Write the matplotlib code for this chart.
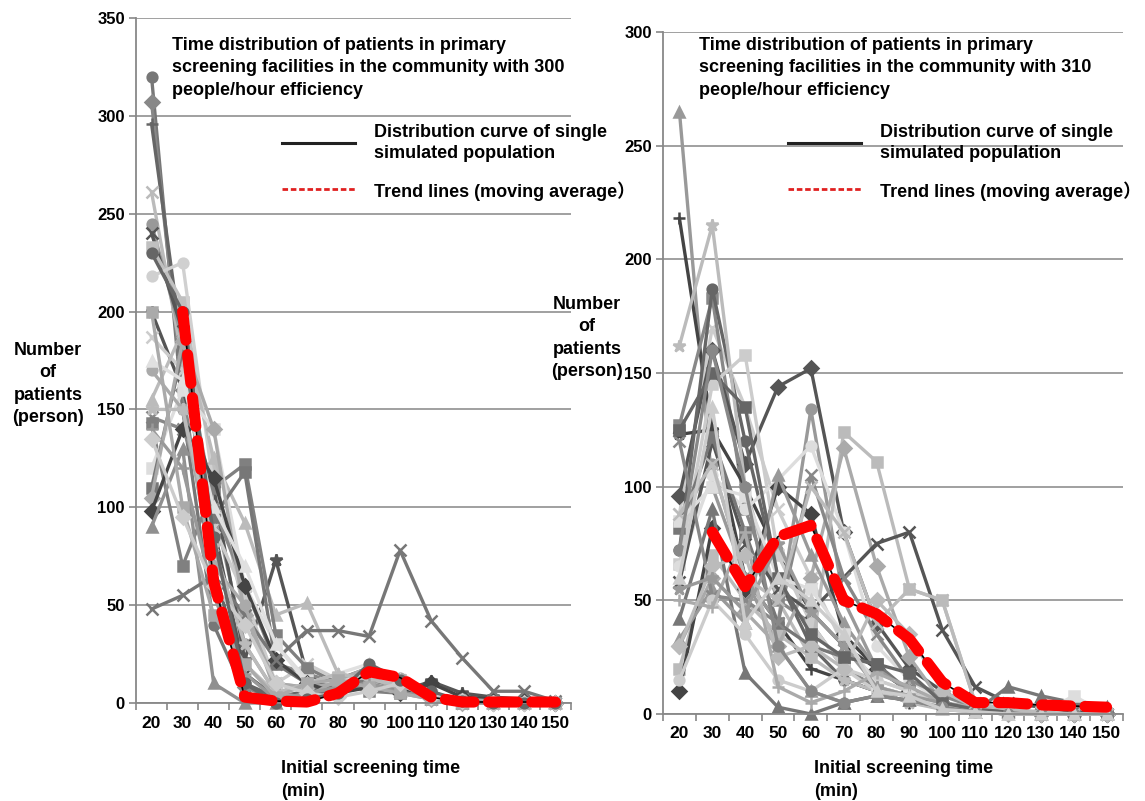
import matplotlib.pyplot as plt
from matplotlib.lines import Line2D
import numpy as np

plt.rcParams['font.family'] = ['Liberation Sans', 'Noto Sans CJK SC', 'DejaVu Sans']
plt.rcParams['font.weight'] = 'bold'

# categories (minutes)
times = ['20', '30', '40', '50', '60', '70', '80', '90', '100', '110', '120', '130', '140', '150']

# left panel: 300 people/hour, one row per simulated population
left_runs = [
    [320, 150, 40, 5, 1, 3, 8, 12, 10, 2, 0, 0, 0, 0],
    [307, 160, 60, 8, 2, 5, 10, 15, 8, 3, 1, 0, 0, 0],
    [296, 180, 70, 10, 3, 6, 12, 18, 10, 4, 1, 0, 0, 0],
    [261, 175, 80, 20, 5, 8, 10, 14, 12, 3, 1, 0, 0, 0],
    [245, 185, 100, 30, 5, 10, 12, 16, 10, 5, 2, 1, 0, 0],
    [240, 190, 90, 15, 3, 5, 8, 12, 8, 2, 0, 0, 0, 0],
    [233, 205, 120, 45, 10, 8, 10, 15, 12, 4, 2, 1, 0, 0],
    [218, 225, 110, 60, 20, 10, 12, 14, 8, 3, 1, 0, 0, 0],
    [200, 160, 110, 22, 73, 15, 5, 10, 6, 11, 5, 3, 2, 0],
    [187, 170, 90, 55, 10, 20, 12, 10, 8, 2, 0, 0, 0, 0],
    [155, 190, 125, 92, 45, 51, 15, 12, 8, 3, 1, 0, 0, 0],
    [146, 140, 100, 60, 20, 15, 10, 8, 6, 4, 1, 0, 0, 0],
    [143, 70, 110, 122, 35, 18, 10, 6, 5, 3, 2, 1, 0, 0],
    [120, 160, 140, 60, 30, 12, 10, 15, 10, 4, 1, 0, 0, 0],
    [110, 180, 95, 118, 20, 10, 8, 12, 8, 3, 1, 0, 0, 0],
    [105, 185, 140, 45, 10, 8, 10, 14, 6, 2, 0, 0, 0, 0],
    [98, 140, 115, 60, 22, 10, 5, 8, 5, 10, 3, 2, 1, 0],
    [90, 130, 10, 0, 0, 5, 8, 10, 6, 2, 0, 0, 0, 0],
    [48, 55, 65, 45, 22, 37, 37, 34, 78, 42, 23, 6, 6, 1],
    [170, 150, 70, 50, 5, 3, 12, 18, 13, 5, 2, 1, 0, 0],
    [175, 165, 100, 70, 30, 10, 15, 20, 12, 4, 1, 0, 0, 0],
    [150, 150, 80, 30, 5, 10, 15, 12, 9, 3, 1, 0, 0, 0],
    [140, 120, 55, 15, 2, 5, 8, 10, 5, 2, 0, 0, 0, 0],
    [200, 100, 45, 20, 3, 10, 12, 8, 5, 2, 0, 0, 0, 0],
    [135, 95, 60, 40, 10, 5, 3, 6, 10, 3, 1, 0, 0, 0],
    [230, 200, 85, 10, 0, 2, 5, 20, 12, 6, 1, 0, 0, 0],
]
# moving average, 30..150
left_trend = [200, 62, 3, 1, 0.5, 5, 16, 13, 3, 0.5, 0.5, 0.5, 0.5]

# right panel: 310 people/hour
right_runs = [
    [265, 100, 60, 30, 10, 5, 8, 6, 2, 1, 1, 0, 0, 0],
    [218, 125, 60, 40, 20, 15, 10, 5, 3, 1, 0, 0, 0, 0],
    [88, 170, 135, 90, 60, 30, 15, 10, 5, 2, 1, 0, 0, 0],
    [127, 183, 90, 50, 40, 20, 12, 8, 3, 1, 1, 0, 0, 0],
    [123, 125, 100, 70, 45, 30, 20, 10, 5, 2, 1, 0, 0, 0],
    [96, 160, 110, 144, 152, 80, 40, 20, 10, 3, 1, 0, 0, 0],
    [72, 187, 120, 60, 30, 15, 10, 8, 3, 1, 0, 0, 0, 0],
    [162, 215, 100, 50, 25, 15, 10, 5, 2, 1, 0, 0, 0, 0],
    [66, 145, 158, 70, 40, 20, 10, 8, 3, 1, 0, 0, 0, 0],
    [85, 110, 60, 40, 134, 50, 20, 10, 5, 2, 1, 0, 0, 0],
    [65, 105, 90, 103, 118, 80, 30, 15, 5, 2, 1, 0, 0, 0],
    [20, 70, 50, 35, 25, 124, 111, 55, 50, 5, 1, 0, 0, 0],
    [30, 60, 45, 30, 60, 117, 65, 25, 5, 2, 0, 0, 0, 0],
    [58, 120, 75, 55, 45, 60, 75, 80, 37, 12, 5, 3, 1, 0],
    [10, 82, 55, 100, 88, 35, 20, 10, 5, 2, 1, 0, 0, 0],
    [42, 90, 18, 3, 0, 5, 8, 6, 3, 1, 12, 8, 5, 3],
    [82, 122, 80, 40, 30, 25, 22, 10, 3, 1, 0, 0, 0, 0],
    [33, 55, 40, 105, 70, 40, 20, 10, 3, 1, 0, 0, 0, 0],
    [120, 52, 50, 40, 105, 60, 35, 15, 8, 3, 1, 0, 0, 0],
    [15, 50, 35, 15, 10, 20, 15, 10, 5, 2, 1, 0, 0, 0],
    [85, 100, 96, 60, 55, 35, 12, 8, 3, 1, 0, 0, 8, 0],
    [50, 47, 80, 12, 5, 10, 18, 12, 5, 3, 1, 0, 0, 0],
    [30, 65, 70, 25, 30, 20, 50, 35, 10, 3, 1, 0, 0, 0],
    [55, 60, 45, 75, 45, 30, 12, 8, 5, 2, 0, 0, 0, 0],
    [125, 150, 135, 60, 35, 25, 22, 18, 5, 2, 1, 0, 0, 0],
    [88, 110, 60, 50, 100, 80, 40, 55, 50, 5, 2, 1, 0, 0],
    [72, 160, 100, 30, 10, 5, 8, 6, 3, 1, 0, 0, 0, 0],
    [60, 135, 40, 60, 50, 35, 10, 8, 2, 1, 0, 0, 0, 0],
]
right_trend = [80, 56, 78, 83, 50, 44, 33, 14, 5, 5, 4, 3.5, 3]

left_markers = ['o', 'D', '+', 'x', 'o', 'x', 's', 'o', '*', 'x', '^', 'x', 's', 's',
                's', 'D', 'D', '^', 'x', 'o', '^', '*', '+', 's', 'D', 'o']
left_greys = ['#777777', '#888888', '#666666', '#bbbbbb', '#999999', '#555555', '#c0c0c0',
              '#d0d0d0', '#555555', '#cccccc', '#bbbbbb', '#888888', '#808080', '#dddddd',
              '#777777', '#aaaaaa', '#444444', '#909090', '#777777', '#aaaaaa', '#e0e0e0',
              '#bbbbbb', '#999999', '#aaaaaa', '#cccccc', '#666666']
right_markers = ['^', '+', 'x', 's', '*', 'D', 'o', '*', 's', 'o', 'o', 's', 'D', 'x',
                 'D', '^', 's', '^', 'x', 'o', 's', '+', 'D', '*', 's', 'x', 'o', '^']
right_greys = ['#999999', '#444444', '#cccccc', '#888888', '#444444', '#555555', '#666666',
               '#bbbbbb', '#cccccc', '#999999', '#dddddd', '#bbbbbb', '#aaaaaa', '#555555',
               '#444444', '#777777', '#777777', '#999999', '#888888', '#cccccc', '#dddddd',
               '#aaaaaa', '#bbbbbb', '#999999', '#666666', '#bbbbbb', '#888888', '#cccccc']

W, H = 1145, 801
fig = plt.figure(figsize=(W / 100, H / 100), dpi=100)
FS = 13


def fx(px):
    return px / W


def fy(py):
    return 1 - py / H


def panel(rect, runs, mks, cols, trend, ymax, title, ylabel_xy, xlabel_x, leg_x):
    ax = fig.add_axes(rect)
    x = np.arange(len(times))
    for run, m, c in zip(runs, mks, cols):
        ms = 9 if m in ('x', '+', '*') else 7
        ax.plot(x, run, color=c, lw=2.4, marker=m, ms=ms, mew=1.8,
                clip_on=False, zorder=2)
    xt = x[1:]
    ax.plot(xt, trend, color='black', lw=1.2, zorder=3, clip_on=False)
    ax.plot(xt, trend, color='#ff0000', lw=8, ls=(0, (2.6, 1.3)),
            dash_capstyle='round', zorder=4, clip_on=False)

    ax.set_xlim(-0.5, len(times) - 0.5)
    ax.set_ylim(0, ymax)
    ax.set_yticks(np.arange(0, ymax + 1, 50))
    ax.set_xticks(np.arange(-0.5, len(times), 1))
    ax.set_xticklabels([])
    ax.set_xticks(x, minor=True)
    ax.set_xticklabels(times, minor=True)
    ax.tick_params(axis='x', which='minor', length=0, pad=9, labelsize=12.5)
    ax.tick_params(axis='x', which='major', length=5, color='#888888', width=1.2)
    ax.tick_params(axis='y', length=5, color='#888888', width=1.2, labelsize=12, pad=3)
    ax.yaxis.grid(True, color='#999999', lw=1.3)
    ax.set_axisbelow(True)
    for s in ('top', 'right'):
        ax.spines[s].set_visible(False)
    for s in ('left', 'bottom'):
        ax.spines[s].set_color('#888888')
        ax.spines[s].set_linewidth(1.3)

    x0 = rect[0] * W
    fig.text(fx(x0 + 36), fy(37), title, fontsize=FS, va='top', ha='left',
             linespacing=1.42)
    # legend
    fig.add_artist(Line2D([fx(leg_x), fx(leg_x + 73)], [fy(143), fy(143)],
                          color='#222222', lw=2.2))
    fig.add_artist(Line2D([fx(leg_x), fx(leg_x + 73)], [fy(189), fy(189)],
                          color='#e02020', lw=2, ls=(0, (2, 1))))
    fig.text(fx(leg_x + 92), fy(143), 'Distribution curve of single\nsimulated population',
             fontsize=FS, va='center', ha='left', linespacing=1.3)
    fig.text(fx(leg_x + 92), fy(191), 'Trend lines (moving average\uff09',
             fontsize=FS, va='center', ha='left')

    fig.text(fx(ylabel_xy[0]), fy(ylabel_xy[1]), 'Number\nof\npatients\n(person)',
             fontsize=FS, ha='center', va='center', multialignment='center',
             linespacing=1.4)
    fig.text(fx(xlabel_x), fy(760), 'Initial screening time\n(min)', fontsize=FS,
             ha='left', va='top', multialignment='left', linespacing=1.45)
    return ax


panel([136 / W, 1 - 703 / H, 435 / W, 685 / H], left_runs, left_markers, left_greys,
      left_trend, 350,
      'Time distribution of patients in primary\nscreening facilities in the community with 300\npeople/hour efficiency',
      (48, 384), 281, 282)
panel([663 / W, 1 - 714 / H, 460 / W, 682 / H], right_runs, right_markers, right_greys,
      right_trend, 300,
      'Time distribution of patients in primary\nscreening facilities in the community with 310\npeople/hour efficiency',
      (587, 338), 814, 788)

fig.savefig('out.png', dpi=100)
